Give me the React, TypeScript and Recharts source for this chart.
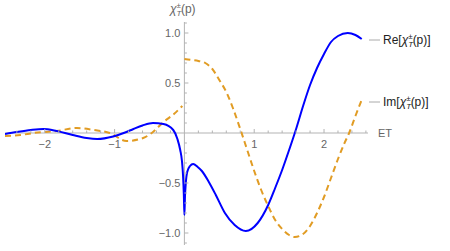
import React from 'react';
import { LineChart, Line, XAxis, YAxis, ReferenceLine } from 'recharts';

// Re part (one continuous curve, cusp at ET = 0)
const reX = [-2.57, -2.4, -2.2, -2.02, -1.83, -1.6, -1.4, -1.25, -1.02, -0.85, -0.73, -0.6, -0.45, -0.3, -0.16, -0.1, -0.06, -0.035, -0.02, -0.008, 0, 0.008, 0.02, 0.04, 0.08, 0.125, 0.19, 0.25, 0.35, 0.45, 0.58, 0.72, 0.88, 1.05, 1.2, 1.3, 1.4, 1.5, 1.6, 1.7, 1.8, 1.9, 2.0, 2.1, 2.2, 2.34, 2.45, 2.54];
const reY = [-0.01, 0.01, 0.03, 0.04, 0.02, -0.02, -0.05, -0.06, -0.035, 0.005, 0.04, 0.075, 0.1, 0.09, 0.03, -0.06, -0.17, -0.28, -0.42, -0.62, -0.82, -0.64, -0.5, -0.39, -0.33, -0.31, -0.34, -0.38, -0.49, -0.62, -0.8, -0.92, -0.98, -0.9, -0.72, -0.55, -0.37, -0.17, 0.04, 0.27, 0.48, 0.65, 0.79, 0.91, 0.97, 1.0, 0.98, 0.94];

// Im part, left of ET = 0
const imLeftX = [-2.57, -2.35, -2.16, -1.83, -1.54, -1.3, -1.07, -0.83, -0.59, -0.45, -0.3, -0.15, -0.03];
const imLeftY = [-0.03, -0.02, 0.0, 0.02, 0.05, 0.03, 0.0, -0.08, -0.05, 0.01, 0.11, 0.19, 0.27];

// Im part, right of ET = 0
const imRightX = [0, 0.1, 0.2, 0.3, 0.4, 0.5, 0.6, 0.7, 0.8, 0.9, 1.0, 1.1, 1.2, 1.3, 1.4, 1.5, 1.58, 1.7, 1.8, 1.9, 2.0, 2.1, 2.2, 2.3, 2.36, 2.45, 2.54];
const imRightY = [0.74, 0.73, 0.72, 0.7, 0.64, 0.53, 0.41, 0.24, 0.04, -0.17, -0.38, -0.57, -0.73, -0.87, -0.96, -1.02, -1.04, -1.01, -0.93, -0.8, -0.64, -0.45, -0.26, -0.09, 0.0, 0.17, 0.33];

const xTicks = [-2.4, -2.2, -2, -1.8, -1.6, -1.4, -1.2, -1, -0.8, -0.6, -0.4, -0.2, 0.2, 0.4, 0.6, 0.8, 1, 1.2, 1.4, 1.6, 1.8, 2, 2.2, 2.4, 2.6];
const xLabels: Record<string, string> = { '-2': '\u22122', '-1': '\u22121', '1': '1', '2': '2' };
const yTicks = [-1.1, -1, -0.9, -0.8, -0.7, -0.6, -0.5, -0.4, -0.3, -0.2, -0.1, 0.1, 0.2, 0.3, 0.4, 0.5, 0.6, 0.7, 0.8, 0.9, 1, 1.1];
const yLabels: Record<string, string> = { '-1': '\u22121.0', '-0.5': '\u22120.5', '0.5': '0.5', '1': '1.0' };

const zip = (xs: number[], ys: number[]) => xs.map((x, i) => ({ x, y: ys[i] }));
const reData = zip(reX, reY);
const imLeftData = zip(imLeftX, imLeftY);
const imRightData = zip(imRightX, imRightY);

const W = 450;
const H = 251;
const margin = { top: 22, right: 82, bottom: 5, left: 4 };
const xDomain: [number, number] = [-2.57, 2.63];
const yDomain: [number, number] = [-1.12, 1.11];

// where the axes cross (origin), from the same layout numbers
const plotLeft = margin.left + 1;
const plotW = W - plotLeft - margin.right;
const plotH = H - margin.top - margin.bottom - 1;
const X0 = plotLeft + ((0 - xDomain[0]) / (xDomain[1] - xDomain[0])) * plotW;
const Y0 = margin.top + ((yDomain[1] - 0) / (yDomain[1] - yDomain[0])) * plotH;

const AXIS = '#b3b3b3';
const LABEL = '#666666';
const FONT = '"Liberation Sans", Arial, sans-serif';

const XTick = (props: any) => {
  const { x, payload } = props;
  const label = xLabels[String(payload.value)];
  return (
    <g>
      <line x1={x} x2={x} y1={Y0} y2={Y0 - (label ? 4 : 2.5)} stroke={AXIS} />
      {label && (
        <text x={x} y={Y0 + 15} textAnchor="middle" fontSize={11} fill={LABEL} fontFamily={FONT}>
          {label}
        </text>
      )}
    </g>
  );
};

const YTick = (props: any) => {
  const { y, payload } = props;
  const label = yLabels[String(payload.value)];
  return (
    <g>
      <line x1={X0} x2={X0 + (label ? 4 : 2.5)} y1={y} y2={y} stroke={AXIS} />
      {label && (
        <text x={X0 - 4} y={y + 4} textAnchor="end" fontSize={11} fill={LABEL} fontFamily={FONT}>
          {label}
        </text>
      )}
    </g>
  );
};

const Chi = ({ x, y, color }: { x: number; y: number; color: string }) => (
  <text x={x} y={y} fontSize={12} fill={color} fontFamily={FONT}>
    <tspan fontStyle="italic">χ</tspan>
    <tspan dy={3} fontSize={8} fontStyle="italic">T</tspan>
    <tspan dx={-4.9} dy={-8} fontSize={8}>±</tspan>
    <tspan dy={5} fontSize={12}>(p)</tspan>
  </text>
);

const LegendEntry = ({ y, prefix }: { y: number; prefix: string }) => (
  <g>
    <line x1={369} x2={380} y1={y} y2={y} stroke="#aaaaaa" strokeWidth={1} />
    <text x={383} y={y + 4} fontSize={12} fill="#222" fontFamily={FONT}>
      <tspan>{prefix}[</tspan>
      <tspan fontStyle="italic">χ</tspan>
      <tspan dy={3} fontSize={8} fontStyle="italic">T</tspan>
      <tspan dx={-4.9} dy={-8} fontSize={8}>±</tspan>
      <tspan dy={5} fontSize={12}>(p)]</tspan>
    </text>
  </g>
);

export default function App() {
  return (
    <div style={{ position: 'absolute', left: 0, top: 0, width: W, height: H, background: '#fff' }}>
      <LineChart width={W} height={H} margin={margin}>
        <XAxis
          type="number"
          dataKey="x"
          domain={xDomain}
          allowDataOverflow
          ticks={xTicks}
          interval={0}
          height={1}
          axisLine={false}
          tickLine={false}
          tick={<XTick />}
        />
        <YAxis
          type="number"
          dataKey="y"
          domain={yDomain}
          allowDataOverflow
          ticks={yTicks}
          interval={0}
          width={1}
          axisLine={false}
          tickLine={false}
          tick={<YTick />}
        />
        <ReferenceLine y={0} stroke={AXIS} />
        <ReferenceLine x={0} stroke={AXIS} />
        <Line
          data={imLeftData}
          dataKey="y"
          type="monotone"
          stroke="#e19c24"
          strokeWidth={2}
          strokeDasharray="6 4"
          dot={false}
          isAnimationActive={false}
        />
        <Line
          data={imRightData}
          dataKey="y"
          type="monotone"
          stroke="#e19c24"
          strokeWidth={2}
          strokeDasharray="6 4"
          dot={false}
          isAnimationActive={false}
        />
        <Line
          data={reData}
          dataKey="y"
          type="monotone"
          stroke="#0000ff"
          strokeWidth={2}
          dot={false}
          isAnimationActive={false}
        />
      </LineChart>
      <svg width={W} height={H} style={{ position: 'absolute', left: 0, top: 0, pointerEvents: 'none' }}>
        <Chi x={170} y={13} color={LABEL} />
        <text x={378} y={Y0 + 4} fontSize={11} fill={LABEL} fontFamily={FONT}>ET</text>
        <LegendEntry y={40} prefix="Re" />
        <LegendEntry y={102} prefix="Im" />
      </svg>
    </div>
  );
}
